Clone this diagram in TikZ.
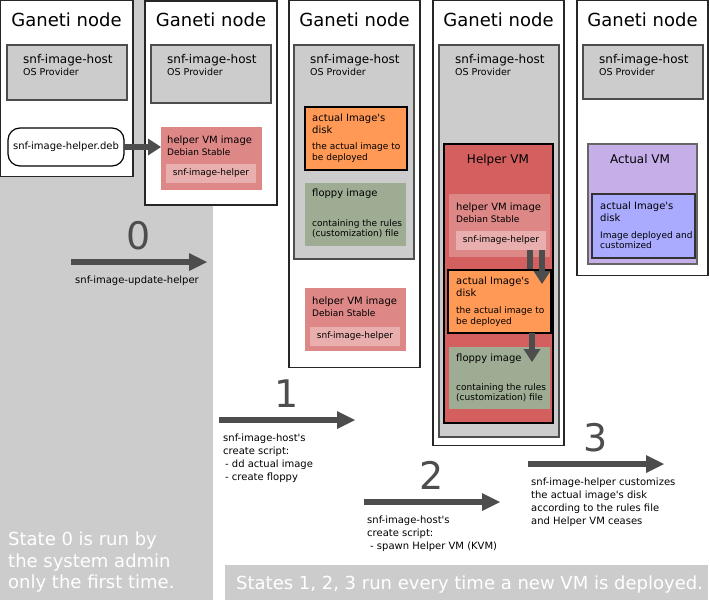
\documentclass[tikz,border=0pt]{standalone}
\usepackage{fontspec}
\setmainfont{DejaVu Sans}[Ligatures=TeXOff]
\usepackage{tikz}
\usetikzlibrary{positioning, arrows.meta}
\definecolor{bggray}{HTML}{CCCCCC}
\definecolor{arrowgray}{HTML}{4D4D4D}
\definecolor{helperimg}{HTML}{DE8787}
\definecolor{helperpkg}{HTML}{E9AFAF}
\definecolor{helpervm}{HTML}{D35F5F}
\definecolor{diskorange}{HTML}{FF9955}
\definecolor{floppygreen}{HTML}{9DAC93}
\definecolor{actualvm}{HTML}{C6AFE9}
\definecolor{diskblue}{HTML}{AAAAFF}
\newcommand{\lines}[1]{\begin{tabular}[t]{@{}l@{}}#1\end{tabular}}

\begin{document}
\begin{tikzpicture}[x=1pt, y=-1pt,
  area/.style={anchor=north west, inner sep=0pt, outer sep=0pt},
  ganeti/.style={area, draw=black!85, fill=white, line width=1.2pt},
  host/.style={area, draw=arrowgray, fill=bggray, line width=1.2pt, minimum width=120},
  himg/.style={area, fill=helperimg, minimum width=101, minimum height=63},
  hpkg/.style={area, fill=helperpkg, minimum width=90, minimum height=19, font=\fontsize{9}{11}\selectfont},
  disk/.style={area, draw=black, fill=diskorange, line width=1.2pt, minimum width=102, minimum height=63},
  floppy/.style={area, fill=floppygreen, minimum width=101, minimum height=63},
  nodetitle/.style={anchor=base, inner sep=0pt, font=\fontsize{18}{22}\selectfont},
  hosttxt/.style={anchor=base west, inner sep=0pt, font=\fontsize{12}{14}\selectfont},
  subtxt/.style={anchor=base west, inner sep=0pt, font=\fontsize{9.5}{11}\selectfont},
  boxtxt/.style={anchor=base west, inner sep=0pt, font=\fontsize{10}{12}\selectfont},
  smalltxt/.style={anchor=base west, inner sep=0pt, font=\fontsize{9}{10.5}\selectfont},
  vmtxt/.style={anchor=base, inner sep=0pt, font=\fontsize{12}{14}\selectfont},
  digit/.style={anchor=base, inner sep=0pt, text=arrowgray, font=\fontsize{38}{40}\selectfont},
  lbl/.style={anchor=base west, inner sep=0pt, font=\fontsize{10}{13}\selectfont},
  statetxt/.style={anchor=base west, inner sep=0pt, text=white, font=\fontsize{18}{21.7}\selectfont},
  stagearrow/.style={draw=arrowgray, line width=6.5pt, -{Triangle[length=18pt, width=18pt, line width=0pt]}},
  flow/.style={draw=arrowgray, line width=6pt, -{Triangle[length=13pt, width=17pt, line width=0pt]}}]
\useasboundingbox (0,0) rectangle (710,600);
\node[area, fill=bggray, minimum width=213, minimum height=600] (bg0) at (0,0) {};
\node[area, fill=bggray, minimum width=483, minimum height=35] (bg1) at (225,565) {};

\node[ganeti, minimum width=133, minimum height=176] (g1) at (0,0.6) {};
\node[ganeti, minimum width=132, minimum height=204] (g2) at (145,1) {};
\node[ganeti, minimum width=131, minimum height=367] (g3) at (289,0.6) {};
\node[ganeti, minimum width=131, minimum height=445] (g4) at (433,0.6) {};
\node[ganeti, minimum width=131, minimum height=275] (g5) at (577,0.6) {};
\foreach \g/\x/\h in {1/7/55, 2/151/58, 3/294/214, 4/439/392, 5/583/54} {
  \node[nodetitle] (t\g) at (g\g.north |- 0,26) {Ganeti node};
  \node[host, minimum height=\h] (h\g) at (\x,45) {};
  \node[hosttxt] (hn\g) at ([xshift=16pt, yshift=-18pt]h\g.north west) {snf-image-host};
  \node[subtxt] (hs\g) at ([xshift=16pt, yshift=-30pt]h\g.north west) {OS Provider};
}

\node[area, draw=black, fill=white, line width=1.2pt, rounded corners=12pt,
  minimum width=116, minimum height=38, font=\fontsize{10}{12}\selectfont] (deb) at (8,128) {snf-image-helper.deb};

\node[himg] (hi2) at (161,127) {};
\node[boxtxt] (hi2a) at ([xshift=6pt, yshift=-16pt]hi2.north west) {helper VM image};
\node[smalltxt] (hi2b) at ([xshift=6pt, yshift=-28pt]hi2.north west) {Debian Stable};
\node[hpkg] (hp2) at (166,164) {snf-image-helper};
\draw[flow] (deb.east) -- (deb.east -| hi2.west);

\node[disk] (dk3) at (305,107) {};
\node[boxtxt] (dk3a) at ([xshift=7pt, yshift=-14.5pt]dk3.north west) {\lines{actual Image's\\disk}};
\node[smalltxt] (dk3b) at ([xshift=7pt, yshift=-42.5pt]dk3.north west) {\lines{the actual image to\\be deployed}};
\node[floppy] (fl3) at (305,183) {};
\node[boxtxt] (fl3a) at ([xshift=7pt, yshift=-13.5pt]fl3.north west) {floppy image};
\node[smalltxt] (fl3b) at ([xshift=7pt, yshift=-43pt]fl3.north west) {\lines{containing the rules\\(customization) file}};
\node[himg] (hi3) at (305,288) {};
\node[boxtxt] (hi3a) at ([xshift=7pt, yshift=-16.5pt]hi3.north west) {helper VM image};
\node[smalltxt] (hi3b) at ([xshift=7pt, yshift=-28.5pt]hi3.north west) {Debian Stable};
\node[hpkg] (hp3) at (310,327) {snf-image-helper};

\node[area, draw=black, fill=helpervm, line width=1.2pt, minimum width=109, minimum height=279] (vm4) at (444,144) {};
\node[vmtxt] (vm4a) at (498,163) {Helper VM};
\node[himg] (hi4) at (449,194) {};
\node[boxtxt] (hi4a) at ([xshift=7pt, yshift=-16pt]hi4.north west) {helper VM image};
\node[smalltxt] (hi4b) at ([xshift=7pt, yshift=-28pt]hi4.north west) {Debian Stable};
\node[hpkg] (hp4) at (456,231) {snf-image-helper};
\draw[arrowgray, line width=6pt] ([xshift=-16pt]hp4.south east) -- ([xshift=-16pt, yshift=-22pt]hp4.south east);
\node[disk, minimum width=103] (dk4) at (448,270) {};
\node[boxtxt] (dk4a) at ([xshift=8pt, yshift=-14.5pt]dk4.north west) {\lines{actual Image's\\disk}};
\node[smalltxt] (dk4b) at ([xshift=8pt, yshift=-43.5pt]dk4.north west) {\lines{the actual image to\\be deployed}};
\draw[flow] ([xshift=-4pt]hp4.south east) -- ([xshift=-4pt, yshift=-34pt]hp4.south east);
\node[floppy, minimum height=62] (fl4) at (449,347) {};
\node[boxtxt] (fl4a) at ([xshift=7pt, yshift=-14pt]fl4.north west) {floppy image};
\node[smalltxt] (fl4b) at ([xshift=7pt, yshift=-43pt]fl4.north west) {\lines{containing the rules\\(customization) file}};
\draw[flow] ([xshift=-19pt]dk4.south east) -- ([xshift=-19pt, yshift=-29pt]dk4.south east);

\node[area, draw=black!60, fill=actualvm, line width=1.2pt, minimum width=109, minimum height=120] (vm5) at (588,144) {};
\node[vmtxt] (vm5a) at (640,163) {Actual VM};
\node[area, draw=black!80, fill=diskblue, line width=1.2pt, minimum width=103, minimum height=64] (dk5) at (592,194) {};
\node[boxtxt] (dk5a) at ([xshift=8pt, yshift=-15pt]dk5.north west) {\lines{actual Image's\\disk}};
\node[smalltxt] (dk5b) at ([xshift=8pt, yshift=-44pt]dk5.north west) {\lines{Image deployed and\\customized}};

\foreach \n/\x/\y in {0/71/262, 1/219/420, 2/364/502, 3/528/464} {
  \coordinate (s\n) at (\x,\y);
  \coordinate (e\n) at (\x+136,\y);
  \draw[stagearrow] (s\n) -- (e\n);
  \node[digit] (d\n) at ([xshift=68pt, yshift=12.5pt]s\n) {\n};
}
\node[lbl] (l0) at ([xshift=4pt, yshift=-21.5pt]s0) {snf-image-update-helper};
\node[lbl] (l1) at ([xshift=4pt, yshift=-21.5pt]s1) {\lines{snf-image-host's\\create script:\\\hspace*{2pt}- dd actual image\\\hspace*{2pt}- create floppy}};
\node[lbl] (l2) at ([xshift=3pt, yshift=-21.5pt]s2) {\lines{snf-image-host's\\create script:\\\hspace*{3pt}- spawn Helper VM (KVM)}};
\node[lbl] (l3) at ([xshift=3pt, yshift=-21.5pt]s3) {\lines{snf-image-helper customizes\\the actual image's disk\\according to the rules file\\and Helper VM ceases}};

\node[statetxt] (c0) at (8,545.5) {\lines{State 0 is run by\\the system admin\\only the first time.}};
\node[statetxt] (c1) at (236,589) {States 1, 2, 3 run every time a new VM is deployed.};
\end{tikzpicture}
\end{document}
